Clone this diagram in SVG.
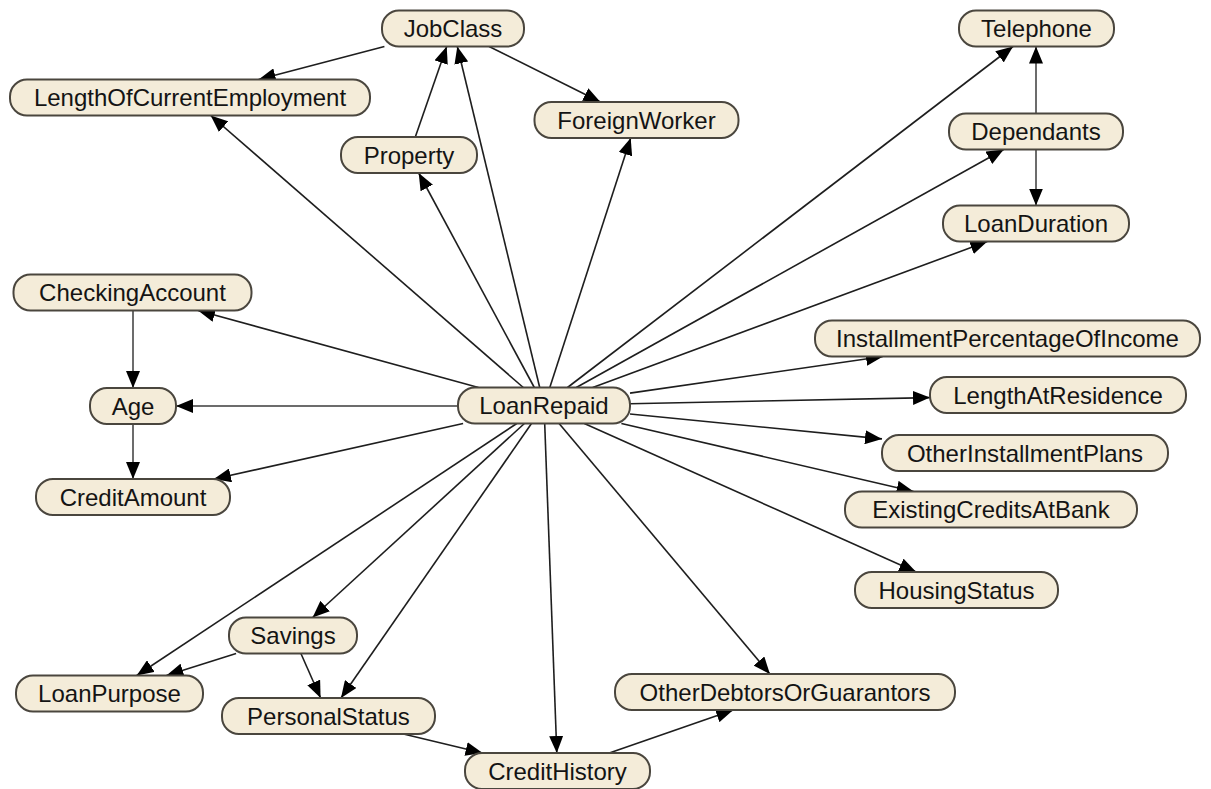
<svg xmlns="http://www.w3.org/2000/svg" width="1211" height="789" viewBox="0 0 1211 789">
<style>
.n rect{fill:#f4ecd9;stroke:#4a463e;stroke-width:2}
.n text{font-family:"Liberation Sans",Arial,sans-serif;font-size:24px;fill:#141414;text-anchor:middle}
.e line{stroke:#1e1e1e;stroke-width:1.6;marker-end:url(#ah)}
.e line.ax{stroke:#6c6c6c;stroke-width:2}
</style>
<defs>
<marker id="ah" markerUnits="userSpaceOnUse" markerWidth="18" markerHeight="14" refX="17" refY="7" orient="auto">
<path d="M0,0 L17,7 L0,14 z" fill="#000"/>
</marker>
</defs>
<rect width="1211" height="789" fill="#fff"/>
<g id="connectors" class="e">
<line x1="384.4" y1="46.5" x2="258.6" y2="79.5"/>
<line x1="415.3" y1="137" x2="446.7" y2="46.5"/>
<line x1="539.7" y1="387.5" x2="457.3" y2="46.5"/>
<line x1="489.1" y1="46.5" x2="600.4" y2="102"/>
<line x1="549.8" y1="387.5" x2="630.7" y2="138"/>
<line x1="534.3" y1="387.5" x2="418.7" y2="173"/>
<line x1="523.3" y1="387.5" x2="210.7" y2="115.5"/>
<line x1="567.5" y1="387.5" x2="1013" y2="46.5"/>
<line x1="576.3" y1="387.5" x2="1003.7" y2="149.5"/>
<line x1="592.7" y1="387.5" x2="987.3" y2="241.5"/>
<line class="ax" x1="1036" y1="113.5" x2="1036" y2="46.5"/>
<line class="ax" x1="1036" y1="149.5" x2="1036" y2="205.5"/>
<line x1="478.5" y1="387.5" x2="198" y2="310.5"/>
<line class="ax" x1="458" y1="406" x2="176" y2="406"/>
<line x1="463.1" y1="423.5" x2="213.9" y2="479"/>
<line class="ax" x1="133" y1="310.5" x2="133" y2="388"/>
<line class="ax" x1="133" y1="424" x2="133" y2="479"/>
<line x1="630" y1="393.1" x2="883" y2="356.5"/>
<line x1="630" y1="403.7" x2="930" y2="397.6"/>
<line x1="630" y1="414" x2="882" y2="438.9"/>
<line x1="621.4" y1="423.5" x2="913.6" y2="491.5"/>
<line x1="584.3" y1="423.5" x2="916.2" y2="572"/>
<line x1="559.1" y1="423.5" x2="769.9" y2="674"/>
<line x1="544.7" y1="423.5" x2="556.8" y2="753"/>
<line x1="609.3" y1="753" x2="733.2" y2="710"/>
<line x1="403.4" y1="734" x2="482.6" y2="753"/>
<line x1="524.4" y1="423.5" x2="312.6" y2="617.5"/>
<line x1="531.5" y1="423.5" x2="341" y2="698"/>
<line x1="516.8" y1="423.5" x2="136.7" y2="675.5"/>
<line x1="236.1" y1="653.5" x2="166.4" y2="675.5"/>
<line x1="300.9" y1="653.5" x2="320.6" y2="698"/>
</g>
<g id="JobClass" class="n"><rect x="382" y="10.5" width="142" height="36" rx="17"/><text x="453" y="37">JobClass</text></g>
<g id="LengthOfCurrentEmployment" class="n"><rect x="10" y="79.5" width="360" height="36" rx="17"/><text x="190" y="106">LengthOfCurrentEmployment</text></g>
<g id="Property" class="n"><rect x="341" y="137" width="136" height="36" rx="17"/><text x="409" y="163.5">Property</text></g>
<g id="ForeignWorker" class="n"><rect x="534.5" y="102" width="204" height="36" rx="17"/><text x="636.5" y="128.5">ForeignWorker</text></g>
<g id="Telephone" class="n"><rect x="959" y="10.5" width="155" height="36" rx="17"/><text x="1036.5" y="37">Telephone</text></g>
<g id="Dependants" class="n"><rect x="949" y="113.5" width="174" height="36" rx="17"/><text x="1036" y="140">Dependants</text></g>
<g id="LoanDuration" class="n"><rect x="943" y="205.5" width="186" height="36" rx="17"/><text x="1036" y="232">LoanDuration</text></g>
<g id="CheckingAccount" class="n"><rect x="13.5" y="274.5" width="238" height="36" rx="17"/><text x="132.5" y="301">CheckingAccount</text></g>
<g id="Age" class="n"><rect x="90" y="388" width="86" height="36" rx="17"/><text x="133" y="414.5">Age</text></g>
<g id="CreditAmount" class="n"><rect x="36" y="479" width="194" height="36" rx="17"/><text x="133" y="505.5">CreditAmount</text></g>
<g id="LoanRepaid" class="n"><rect x="458" y="387.5" width="172" height="36" rx="17"/><text x="544" y="414">LoanRepaid</text></g>
<g id="InstallmentPercentageOfIncome" class="n"><rect x="815" y="320.5" width="385" height="36" rx="17"/><text x="1007.5" y="347">InstallmentPercentageOfIncome</text></g>
<g id="LengthAtResidence" class="n"><rect x="930" y="377" width="256" height="36" rx="17"/><text x="1058" y="403.5">LengthAtResidence</text></g>
<g id="OtherInstallmentPlans" class="n"><rect x="882" y="435" width="286" height="36" rx="17"/><text x="1025" y="461.5">OtherInstallmentPlans</text></g>
<g id="ExistingCreditsAtBank" class="n"><rect x="845" y="491.5" width="292" height="36" rx="17"/><text x="991" y="518">ExistingCreditsAtBank</text></g>
<g id="HousingStatus" class="n"><rect x="855" y="572" width="203" height="36" rx="17"/><text x="956.5" y="598.5">HousingStatus</text></g>
<g id="Savings" class="n"><rect x="229" y="617.5" width="128" height="36" rx="17"/><text x="293" y="644">Savings</text></g>
<g id="LoanPurpose" class="n"><rect x="16" y="675.5" width="187" height="36" rx="17"/><text x="109.5" y="702">LoanPurpose</text></g>
<g id="PersonalStatus" class="n"><rect x="222" y="698" width="213" height="36" rx="17"/><text x="328.5" y="724.5">PersonalStatus</text></g>
<g id="OtherDebtorsOrGuarantors" class="n"><rect x="615" y="674" width="340" height="36" rx="17"/><text x="785" y="700.5">OtherDebtorsOrGuarantors</text></g>
<g id="CreditHistory" class="n"><rect x="465" y="753" width="185" height="36" rx="17"/><text x="557.5" y="779.5">CreditHistory</text></g>
</svg>
